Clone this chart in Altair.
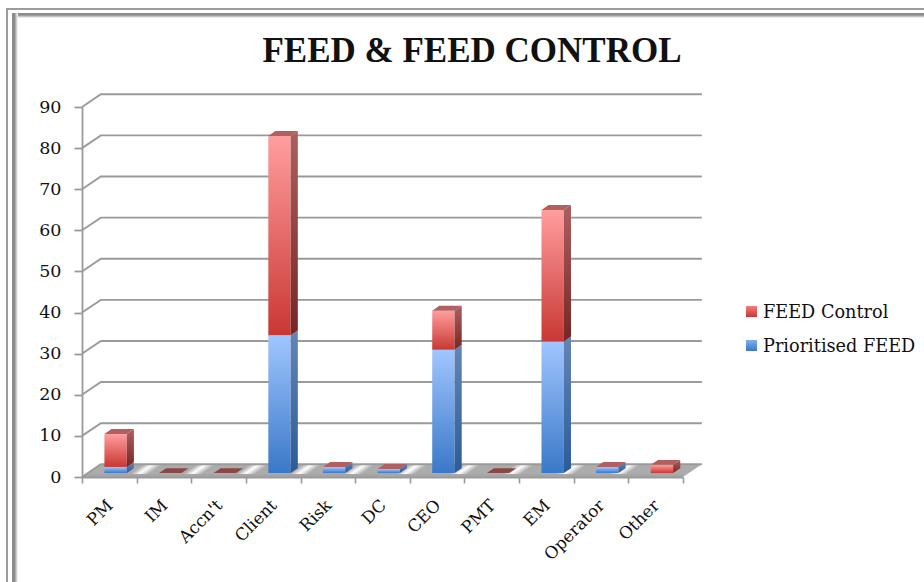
import altair as alt
import pandas as pd

categories = ["PM", "IM", "Accn't", "Client", "Risk", "DC", "CEO", "PMT", "EM", "Operator", "Other"]
prioritised = [1.5, 0, 0, 33.5, 1.5, 1, 30, 0, 32, 1.5, 0]
control = [8, 0, 0, 48.5, 0, 0, 9.5, 0, 32, 0, 2]
y_ticks = [0, 10, 20, 30, 40, 50, 60, 70, 80, 90]
x_ticks = list(range(12))

# Pseudo-3D geometry, in axis units
WALL_DX, WALL_DY = 0.345, 3.09     # shift from the front edge to the back wall
BAR_DX, BAR_DY = 0.115, 0.95       # shift from the front edge to a bar's front face
DEPTH_DX, DEPTH_DY = 0.13, 1.2     # bar depth
BAR_W = 0.41

SERIF = "DejaVu Serif"
GREY = "#9a9a9a"

x_scale = alt.Scale(domain=[0, 11], range=[82, 683], nice=False, zero=False)
y_scale = alt.Scale(domain=[0, 90], range=[477, 107], nice=False, zero=False)
x_axis = alt.Axis(
    values=x_ticks, title=None, grid=False, labels=False, offset=-105, tickSize=6,
    tickWidth=1.6, domainColor=GREY, domainWidth=2, tickColor=GREY, zindex=1,
)
y_axis = alt.Axis(
    values=y_ticks, title=None, grid=False, offset=-82, tickSize=8, tickWidth=1.8,
    domainColor=GREY, domainWidth=1.8, tickColor=GREY, labelPadding=13,
    labelFont=SERIF, labelFontSize=17.5, labelColor="#111111",
)
X = alt.X("x:Q", scale=x_scale, axis=x_axis)
Y = alt.Y("y:Q", scale=y_scale, axis=y_axis)


def grad(top, bottom):
    return alt.LinearGradient(
        gradient="linear", x1=0, y1=0, x2=0, y2=1,
        stops=[alt.GradientStop(color=top, offset=0), alt.GradientStop(color=bottom, offset=1)],
    )


# Rows for every stacked segment
segments = []
for i, cat in enumerate(categories):
    left = i + 0.5 - BAR_W / 2 + BAR_DX
    right = left + BAR_W
    for series, lo, hi in (("p", 0, prioritised[i]), ("c", prioritised[i], prioritised[i] + control[i])):
        if hi > lo:
            segments.append(dict(cat=cat, series=series, left=left, right=right,
                                 lo=lo + BAR_DY, hi=hi + BAR_DY))
seg = pd.DataFrame(segments)


def front(series, top, bottom):
    return alt.Chart(seg[seg.series == series]).mark_rect(color=grad(top, bottom)).encode(
        x=alt.X("left:Q", scale=x_scale, axis=x_axis), x2="right:Q",
        y=alt.Y("lo:Q", scale=y_scale, axis=y_axis), y2="hi:Q",
    )


def side(series, top, bottom):
    rows = []
    for r in seg[seg.series == series].itertuples():
        rows.append(dict(cat=r.cat, x=r.right, y=r.hi, y2=r.lo))
        rows.append(dict(cat=r.cat, x=r.right + DEPTH_DX, y=r.hi + DEPTH_DY, y2=r.lo + DEPTH_DY))
    return alt.Chart(pd.DataFrame(rows)).mark_area(color=grad(top, bottom)).encode(
        x=X, y=Y, y2="y2:Q", detail="cat:N",
    )


# Top caps: a red cap closes every column, even an empty one
caps = []
for i, cat in enumerate(categories):
    left = i + 0.5 - BAR_W / 2 + BAR_DX
    total = prioritised[i] + control[i]
    for d, shift in ((0, 0), (DEPTH_DY, DEPTH_DX)):
        caps.append(dict(cat=cat, blank=total == 0, y=total + BAR_DY + d,
                         x=left + shift, x2=left + BAR_W + shift))
caps = pd.DataFrame(caps)


def cap(rows, colour):
    return alt.Chart(rows).mark_area(orient="horizontal", color=colour).encode(
        y=Y, x=X, x2="x2:Q", detail="cat:N",
    )


# Grid lines run up the side wall and along the back wall
grid_rows = []
for v in y_ticks:
    grid_rows += [dict(tick=v, x=0, y=v), dict(tick=v, x=WALL_DX, y=v + WALL_DY),
                  dict(tick=v, x=11 + WALL_DX, y=v + WALL_DY)]
grid = alt.Chart(pd.DataFrame(grid_rows)).mark_line(color=GREY, strokeWidth=1.9).encode(
    x=X, y=Y, detail="tick:N",
)

# Striped floor with a darker front lip
floor_df = pd.DataFrame([dict(x=0, y=0, x2=11), dict(x=WALL_DX, y=WALL_DY, x2=11 + WALL_DX)])
FLOOR_GREY = "#acacac"
stops = [alt.GradientStop(color=FLOOR_GREY, offset=0)]
for k in range(1, 11):
    p = (k / 11.345 + 0.029) / 1.029
    stops += [alt.GradientStop(color=FLOOR_GREY, offset=round(p - 0.014, 4)),
              alt.GradientStop(color="#ffffff", offset=round(p, 4)),
              alt.GradientStop(color=FLOOR_GREY, offset=round(p + 0.016, 4))]
stops.append(alt.GradientStop(color=FLOOR_GREY, offset=1))
floor = alt.Chart(floor_df).mark_area(
    orient="horizontal",
    color=alt.LinearGradient(gradient="linear", x1=0, y1=0, x2=1, y2=0.029, stops=stops),
).encode(y=Y, x=X, x2="x2:Q")
floor_lip = alt.Chart(pd.DataFrame({"x": [0.05, 11], "y": [0.35, 0.35]})).mark_line(
    color="#a6a6a6", strokeWidth=3,
).encode(x=X, y=Y)

# Category labels
label_df = pd.DataFrame({"cat": categories, "x": [i + 0.52 for i in range(11)]})
labels = alt.Chart(label_df).mark_text(
    angle=315, align="right", baseline="middle", font=SERIF, fontSize=16.8, color="#111111",
).encode(x=X, y=alt.value(503), text="cat:N")

title = alt.Chart(pd.DataFrame({"t": ["FEED & FEED CONTROL"]})).mark_text(
    font="Liberation Serif", fontWeight="bold", fontSize=35, color="#111111", align="center",
    baseline="alphabetic",
).encode(x=alt.value(472), y=alt.value(62), text="t:N")


def legend_entry(name, text_y, top_y, top, bottom):
    label = alt.Chart(pd.DataFrame({"name": [name]})).mark_text(
        font=SERIF, fontSize=17.7, align="left", baseline="middle", color="#111111",
    ).encode(x=alt.value(763), y=alt.value(text_y), text="name:N")
    box = alt.Chart(pd.DataFrame({"name": [name]})).mark_rect(color=grad(top, bottom)).encode(
        x=alt.value(746), x2=alt.value(757), y=alt.value(top_y), y2=alt.value(top_y + 11),
    )
    return [box, label]


# Bevelled frame along the top and left edges
def frame_rect(x0, x1, y0, y1, fill):
    return alt.Chart(pd.DataFrame({"k": [0]})).mark_rect(color=fill).encode(
        x=alt.value(x0), x2=alt.value(x1), y=alt.value(y0), y2=alt.value(y1),
    )


def fade(x1, y1):
    return alt.LinearGradient(
        gradient="linear", x1=0, y1=0, x2=x1, y2=y1,
        stops=[alt.GradientStop(color="#8c8c8c", offset=0), alt.GradientStop(color="#8c8c8c", offset=0.4),
               alt.GradientStop(color="#ffffff", offset=1)],
    )


frame = [
    frame_rect(6, 924, 8, 10, "#9c9c9c"),
    frame_rect(6, 8, 8, 582, "#9c9c9c"),
    frame_rect(12, 924, 13, 18, fade(0, 1)),
    frame_rect(12, 18, 13, 582, fade(1, 0)),
]

chart = alt.layer(
    *frame,
    floor, floor_lip, grid,
    front("p", "#a0c6ff", "#3a78c8"), side("p", "#6485b5", "#2c5b98"),
    front("c", "#ff9e9e", "#c93733"), side("c", "#ab6060", "#752624"),
    cap(caps[~caps["blank"]], "#b06060"), cap(caps[caps["blank"]], "#8b4747"),
    labels, title,
    *legend_entry("FEED Control", 313, 306, "#f27f7c", "#c93733"),
    *legend_entry("Prioritised FEED", 347, 340, "#7fb0ee", "#3a78c8"),
).properties(width=924, height=582, padding=0, autosize=alt.AutoSizeParams(type="none")).configure_view(stroke=None)

chart.save("out.html", embed_options={"renderer": "svg", "actions": False})
